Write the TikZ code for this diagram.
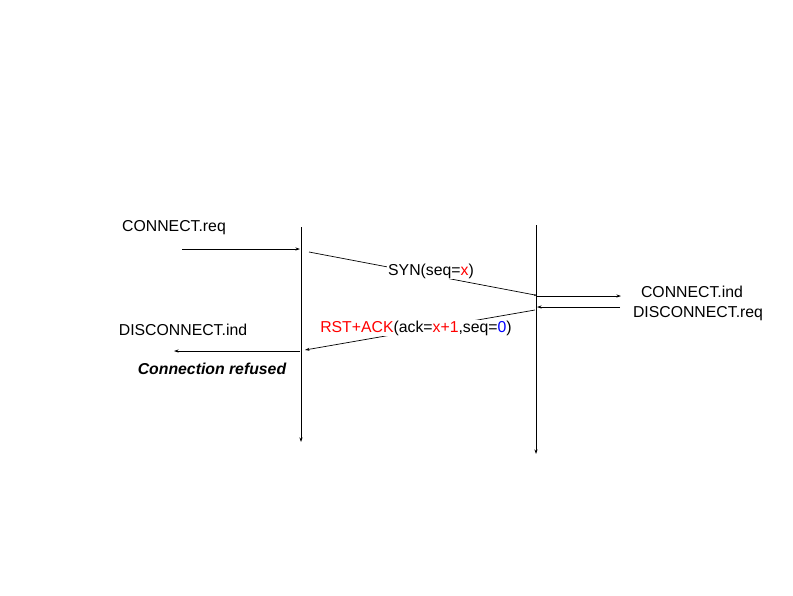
\documentclass[tikz,border=0pt]{standalone}
\usepackage{fontspec}
\setmainfont{Liberation Sans}
\usetikzlibrary{arrows.meta}
\begin{document}
\begin{tikzpicture}[x=1pt,y=-1pt,
  lbl/.style={font=\fontsize{15.8}{18}\selectfont, inner sep=1pt},
  msg/.style={-{Stealth[length=4.5pt,width=3pt]}, line width=0.7pt},
  life/.style={-{Stealth[length=4.5pt,width=3pt]}, line width=0.8pt}]
\useasboundingbox (0,0) rectangle (793,595);
% lifelines
\coordinate (lt) at (301,227);
\coordinate (lb) at (301,442);
\coordinate (rt) at (536,225);
\coordinate (rb) at (536,454);
\draw[life] (lt) -- (lb);
\draw[life] (rt) -- (rb);
% points
\coordinate (reqs) at (182,249);
\coordinate (reqe) at (300,249);
\coordinate (syns) at (309,252);
\coordinate (syne) at (535,295);
\coordinate (inds) at (537,296);
\coordinate (inde) at (621,296);
\coordinate (dreqs) at (620,307);
\coordinate (dreqe) at (537,307);
\coordinate (rsts) at (535,310);
\coordinate (rste) at (305,350);
\coordinate (dinds) at (300,351);
\coordinate (dinde) at (174,351);
\draw[msg] (reqs) -- (reqe);
\draw[line width=0.7pt] (syns) -- (syne);
\fill (syne) circle (1pt);
\draw[msg] (inds) -- (inde);
\draw[msg] (dreqs) -- (dreqe);
\draw[msg] (rsts) -- (rste);
\draw[msg] (dinds) -- (dinde);
% labels
\node[lbl] (creq) at (174,228) {CONNECT.req};
\node[lbl, fill=white] (syn) at (431,271) {SYN(seq=\textcolor{red}{x})};
\node[lbl] (cind) at (692,292) {CONNECT.ind};
\node[lbl] (dreq) at (698,314) {DISCONNECT.req};
\node[lbl] (dind) at (183,330) {DISCONNECT.ind};
\node[lbl, fill=white] (rst) at (416,328) {\textcolor{red}{RST+ACK}(ack=\textcolor{red}{x+1},seq=\textcolor{blue}{0})};
\node[lbl, font=\fontsize{15.8}{18}\selectfont\bfseries\itshape] (refused) at (212,369) {Connection refused};
\end{tikzpicture}
\end{document}
